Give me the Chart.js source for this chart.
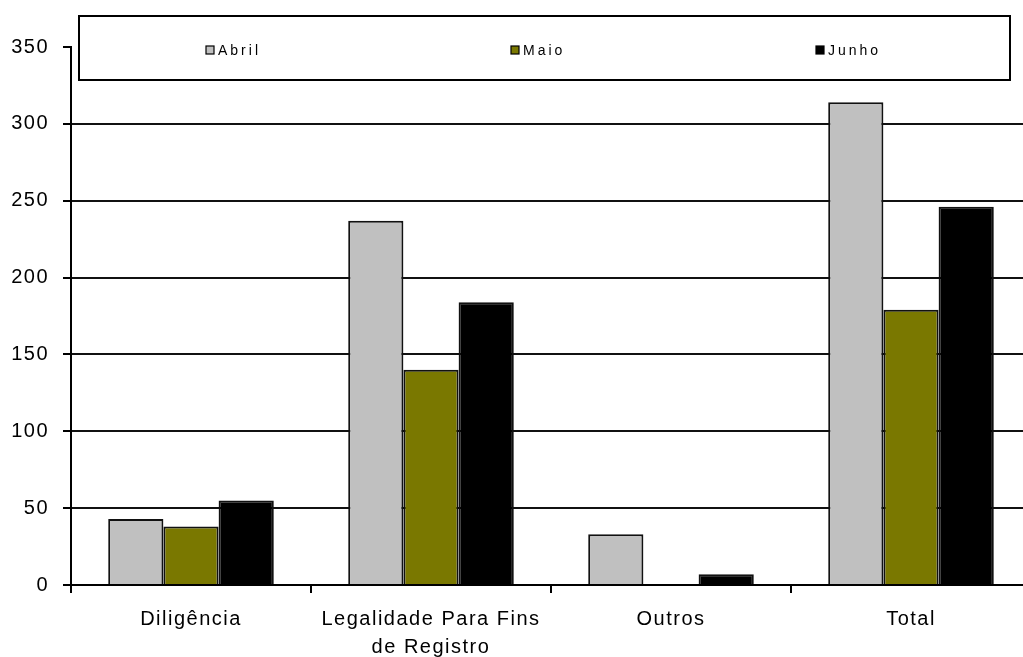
<!DOCTYPE html>
<html>
<head>
<meta charset="utf-8">
<script src="https://cdn.jsdelivr.net/npm/chart.js@4/dist/chart.umd.min.js"></script>
<style>
  html, body { margin: 0; padding: 0; background: #fff; overflow: hidden; }
  #wrap { position: relative; width: 1040px; height: 657px; }
</style>
</head>
<body>
<div id="wrap"><canvas id="chart"></canvas></div>
<script>
// Data
const categories = ['Diligência', ['Legalidade Para Fins', 'de Registro'], 'Outros', 'Total'];
const seriesNames = ['Abril', 'Maio', 'Junho'];
const abril = [43, 237, 33, 314];
const maio = [38, 140, 0, 179];
const junho = [55, 184, 7, 246];
const yTicks = [0, 50, 100, 150, 200, 250, 300, 350];

const colors = ['#c0c0c0', '#7a7800', '#000000'];

// Excel-like boxed legend spread across the top
const boxLegend = {
  id: 'boxLegend',
  beforeDraw(chart) {
    chart.ctx.letterSpacing = '1.5px';
  },
  afterDraw(chart) {
    const ctx = chart.ctx;
    ctx.save();
    ctx.letterSpacing = '0px';
    ctx.fillStyle = '#fff';
    ctx.fillRect(79, 16, 931, 64);
    ctx.strokeStyle = '#000';
    ctx.lineWidth = 2;
    ctx.strokeRect(79, 16, 931, 64);
    ctx.font = '14px "Liberation Sans", Arial, sans-serif';
    ctx.letterSpacing = '3px';
    ctx.textBaseline = 'middle';
    ctx.textAlign = 'left';
    chart.data.datasets.forEach((ds, i) => {
      const x = 206 + i * 305;
      const y = 46;
      ctx.fillStyle = ds.backgroundColor;
      ctx.fillRect(x, y, 8, 8);
      ctx.lineWidth = 1.2;
      ctx.strokeStyle = '#000';
      ctx.strokeRect(x, y, 8, 8);
      ctx.fillStyle = '#000';
      ctx.fillText(ds.label, x + 12, y + 5);
    });
    ctx.restore();
  }
};

const values = [abril, maio, junho];

new Chart(document.getElementById('chart'), {
  type: 'bar',
  data: {
    labels: categories,
    datasets: seriesNames.map((name, i) => ({
      label: name,
      data: values[i],
      backgroundColor: colors[i],
      borderColor: '#111',
      borderWidth: 2,
      categoryPercentage: 0.69,
      barPercentage: 1.0
    }))
  },
  options: {
    responsive: true,
    maintainAspectRatio: false,
    animation: false,
    layout: { padding: { left: 0, top: 47, right: 9, bottom: 0 } },
    plugins: {
      legend: { display: false },
      tooltip: { enabled: false }
    },
    scales: {
      x: {
        offset: true,
        afterFit: (s) => { s.height = 72; },
        border: { color: '#000', width: 2 },
        grid: {
          offset: true,
          drawOnChartArea: false,
          color: '#000',
          lineWidth: 2,
          tickLength: 8
        },
        ticks: {
          color: '#000',
          padding: 12,
          maxRotation: 0,
          autoSkip: false,
          font: { family: '"Liberation Sans", Arial, sans-serif', size: 20, lineHeight: 1.4 }
        }
      },
      y: {
        min: 0,
        max: 350,
        afterFit: (s) => { s.width = 71; },
        afterBuildTicks: (s) => { s.ticks = yTicks.map(v => ({ value: v })); },
        border: { color: '#000', width: 2 },
        grid: {
          color: (c) => (c.tick && c.tick.value === 350) ? 'rgba(0,0,0,0)' : '#111',
          tickColor: '#000',
          lineWidth: 2,
          tickLength: 8
        },
        ticks: {
          color: '#000',
          padding: 14,
          font: { family: '"Liberation Sans", Arial, sans-serif', size: 20 }
        }
      }
    }
  },
  plugins: [boxLegend]
});
</script>
</body>
</html>
